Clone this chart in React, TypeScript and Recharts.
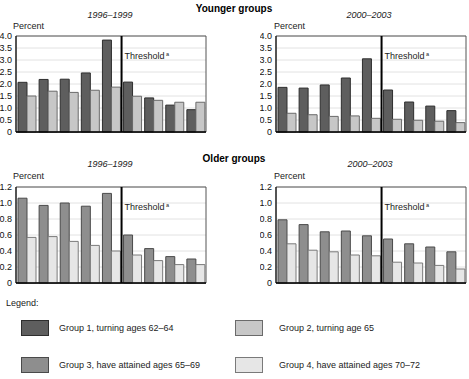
import React from "react";
import {
  BarChart,
  Bar,
  XAxis,
  YAxis,
  CartesianGrid,
  ReferenceLine,
  ReferenceArea,
} from "recharts";

const categories = ["c1", "c2", "c3", "c4", "c5", "c6", "c7", "c8", "c9"];
const thresholdAfter = "c5";

// younger groups
const youngEarlyG1 = [2.07, 2.19, 2.2, 2.46, 3.83, 2.08, 1.42, 1.12, 0.93];
const youngEarlyG2 = [1.5, 1.7, 1.65, 1.74, 1.87, 1.49, 1.32, 1.24, 1.24];
const youngLateG1 = [1.86, 1.83, 1.96, 2.25, 3.05, 1.75, 1.25, 1.08, 0.89];
const youngLateG2 = [0.78, 0.72, 0.65, 0.67, 0.57, 0.53, 0.49, 0.45, 0.39];

// older groups
const oldEarlyG3 = [1.06, 0.97, 1.0, 0.96, 1.12, 0.6, 0.43, 0.33, 0.3];
const oldEarlyG4 = [0.57, 0.58, 0.52, 0.47, 0.4, 0.35, 0.28, 0.23, 0.23];
const oldLateG3 = [0.79, 0.73, 0.64, 0.65, 0.59, 0.55, 0.49, 0.45, 0.39];
const oldLateG4 = [0.49, 0.41, 0.39, 0.35, 0.34, 0.26, 0.25, 0.22, 0.175];

const youngTicks = [0, 0.5, 1, 1.5, 2, 2.5, 3, 3.5, 4];
const oldTicks = [0, 0.2, 0.4, 0.6, 0.8, 1, 1.2];

const groups = [
  { name: "Group 1, turning ages 62\u201364", fill: "#5e5e5e", stroke: "#2e2e2e" },
  { name: "Group 2, turning age 65", fill: "#c7c7c7", stroke: "#6a6a6a" },
  { name: "Group 3, have attained ages 65\u201369", fill: "#8e8e8e", stroke: "#4a4a4a" },
  { name: "Group 4, have attained ages 70\u201372", fill: "#e6e6e6", stroke: "#7a7a7a" },
];

const FONT = "'Liberation Sans', Arial, Helvetica, sans-serif";

type PanelProps = {
  left: number;
  top: number;
  first: number[];
  second: number[];
  g1: number;
  g2: number;
  ticks: number[];
};

const Panel: React.FC<PanelProps> = ({ left, top, first, second, g1, g2, ticks }) => {
  const rows = categories.map((c, i) => ({ cat: c, a: first[i], b: second[i] }));
  const max = ticks[ticks.length - 1];
  return (
    <div style={{ position: "absolute", left, top }}>
      <BarChart
        width={209}
        height={110}
        data={rows}
        margin={{ top: 6, right: 3, bottom: 8, left: 0 }}
        barCategoryGap={2}
        barGap={0}
      >
        <CartesianGrid vertical={false} stroke="#e2e2e2" />
        <XAxis dataKey="cat" type="category" hide />
        <YAxis
          type="number"
          domain={[0, max]}
          ticks={ticks}
          interval={0}
          width={16}
          tickSize={0}
          tickMargin={4}
          axisLine={{ stroke: "#000" }}
          tickLine={false}
          tick={{ fontSize: 9, fill: "#111", fontFamily: FONT }}
          tickFormatter={(v: number) => (v === 0 ? "0" : v.toFixed(1))}
        />
        <Bar
          dataKey="a"
          fill={groups[g1].fill}
          stroke={groups[g1].stroke}
          strokeWidth={1}
          isAnimationActive={false}
        />
        <Bar
          dataKey="b"
          fill={groups[g2].fill}
          stroke={groups[g2].stroke}
          strokeWidth={1}
          isAnimationActive={false}
        />
        <ReferenceArea y1={0} y2={max} fill="none" stroke="#555" strokeWidth={1} />
        <ReferenceLine y={0} stroke="#000" strokeWidth={1.5} />
        <ReferenceLine
          x={thresholdAfter}
          position="end"
          stroke="#000"
          strokeWidth={2}
          label={(p: any) => {
            const vb = p.viewBox || { x: 0, y: 0 };
            return (
              <text x={vb.x + 3} y={vb.y + 23} fontSize={9} fill="#222" fontFamily={FONT}>
                Threshold
                <tspan fontSize={5.5} dy={-3}> a</tspan>
              </text>
            );
          }}
        />
      </BarChart>
    </div>
  );
};

const txt = (
  s: string,
  x: number,
  y: number,
  extra: React.CSSProperties = {},
  center = false
) => (
  <div
    style={{
      position: "absolute",
      left: center ? x - 100 : x,
      width: center ? 200 : undefined,
      top: y - 6,
      height: 12,
      lineHeight: "12px",
      fontSize: 9,
      color: "#222",
      whiteSpace: "nowrap",
      textAlign: center ? "center" : "left",
      ...extra,
    }}
  >
    {s}
  </div>
);

const Swatch: React.FC<{ x: number; y: number; g: number }> = ({ x, y, g }) => (
  <div
    style={{
      position: "absolute",
      left: x,
      top: y,
      width: 26,
      height: 14,
      background: groups[g].fill,
      border: `1px solid ${groups[g].stroke}`,
    }}
  />
);

export default function App() {
  return (
    <div
      style={{
        position: "fixed",
        left: 0,
        top: 0,
        width: 469,
        height: 379,
        background: "#fff",
        fontFamily: FONT,
        overflow: "hidden",
      }}
    >
      {txt("Younger groups", 234, 9, { fontWeight: "bold", fontSize: 10, color: "#000" }, true)}
      {txt("1996\u20131999", 110, 15, { fontStyle: "italic" }, true)}
      {txt("2000\u20132003", 369, 15, { fontStyle: "italic" }, true)}
      {txt("Percent", 13, 26)}
      {txt("Percent", 274, 26)}

      <Panel left={0} top={30} first={youngEarlyG1} second={youngEarlyG2} g1={0} g2={1} ticks={youngTicks} />
      <Panel left={260} top={30} first={youngLateG1} second={youngLateG2} g1={0} g2={1} ticks={youngTicks} />

      {txt("Older groups", 234, 159, { fontWeight: "bold", fontSize: 10, color: "#000" }, true)}
      {txt("1996\u20131999", 110, 164, { fontStyle: "italic" }, true)}
      {txt("2000\u20132003", 370, 164, { fontStyle: "italic" }, true)}
      {txt("Percent", 13, 176)}
      {txt("Percent", 274, 176)}

      <Panel left={0} top={181} first={oldEarlyG3} second={oldEarlyG4} g1={2} g2={3} ticks={oldTicks} />
      <Panel left={260} top={181} first={oldLateG3} second={oldLateG4} g1={2} g2={3} ticks={oldTicks} />

      {txt("Legend:", 6, 303)}
      <Swatch x={21} y={320} g={0} />
      {txt(groups[0].name, 59, 328)}
      <Swatch x={235} y={320} g={1} />
      {txt(groups[1].name, 279, 328)}
      <Swatch x={21} y={357} g={2} />
      {txt(groups[2].name, 59, 365)}
      <Swatch x={235} y={357} g={3} />
      {txt(groups[3].name, 279, 365)}
    </div>
  );
}
